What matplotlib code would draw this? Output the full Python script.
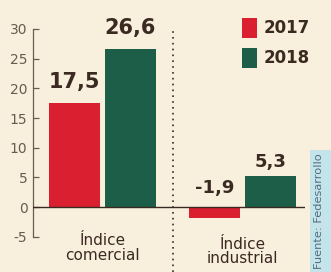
import numpy as np
import matplotlib
matplotlib.use("Agg")
import matplotlib.pyplot as plt
from matplotlib.patches import Rectangle

# donnees
categories = ["Índice\ncomercial", "Índice\nindustrial"]
annees = ["2017", "2018"]
v2017 = [17.5, -1.9]
v2018 = [26.6, 5.3]
etiquettes_2017 = ["17,5", "-1,9"]
etiquettes_2018 = ["26,6", "5,3"]
yticks = [-5, 0, 5, 10, 15, 20, 25, 30]
source = "Fuente: Fedesarrollo"

FOND = "#f8f0dc"
ROUGE = "#d91f30"
VERT = "#1d5e48"
ENCRE = "#3b2a22"
ENCRE2 = "#6a5a50"

W, H = 331, 272
fig = plt.figure(figsize=(W / 100, H / 100), dpi=100, facecolor=FOND)

# bande bleue de la source
fig.patches.append(Rectangle((310 / W, 0), 21 / W, 122 / H, transform=fig.transFigure,
                             facecolor="#c4e4ea", edgecolor="none", zorder=0))
fig.text(319 / W, 61 / H, source, rotation=90, ha="center", va="center",
         fontsize=8.2, color="#4f6f80")

ax = fig.add_axes([33 / W, 1 - 236.7 / H, 272 / W, 207.7 / H])
ax.set_facecolor("none")

x = np.arange(len(categories))
larg, dec = 0.363, 0.2
ax.bar(x - dec, v2017, larg, color=ROUGE, zorder=2)
ax.bar(x + dec, v2018, larg, color=VERT, zorder=2)

for i in range(len(categories)):
    taille = 15 if i == 0 else 13
    ecart = 2.5 if i == 0 else 1.4
    h1 = v2017[i]
    y1 = h1 + ecart if h1 > 0 else 2.3
    ax.text(x[i] - dec, y1, etiquettes_2017[i], ha="center", va="baseline",
            fontsize=taille, fontweight="bold", color=ENCRE)
    ax.text(x[i] + dec, v2018[i] + ecart, etiquettes_2018[i], ha="center", va="baseline",
            fontsize=taille, fontweight="bold", color=ENCRE)
    ax.text(x[i], -4.4 - 0.6 * i, categories[i], ha="center", va="top", fontsize=11,
            color=ENCRE, linespacing=0.95)

ax.set_xlim(-0.495, 1.443)
ax.set_ylim(-5, 30)
ax.axhline(0, color=ENCRE, lw=1.0, zorder=3)
ax.axvline(0.5, ymin=-0.17, ymax=1.0, color=ENCRE, lw=1.2, ls=(0, (1, 2.5)),
           clip_on=False)

for s in ("top", "right", "bottom"):
    ax.spines[s].set_visible(False)
ax.spines["left"].set_color(ENCRE2)
ax.spines["left"].set_linewidth(0.9)
ax.set_xticks([])
ax.set_yticks(yticks)
ax.set_yticklabels([str(t) for t in yticks])
ax.tick_params(axis="y", direction="in", length=4, width=0.9, color=ENCRE2,
               labelcolor=ENCRE2, labelsize=10, pad=4)

# legende
for j, (coul, nom) in enumerate(zip((ROUGE, VERT), annees)):
    y0 = 1 - (38 + j * 30) / H
    fig.patches.append(Rectangle((242 / W, y0), 15 / W, 20 / H, transform=fig.transFigure,
                                 facecolor=coul, edgecolor="none"))
    fig.text(264 / W, y0 + 10 / H, nom, ha="left", va="center", fontsize=12,
             fontweight="bold", color=ENCRE)

fig.savefig("out.png", dpi=100, facecolor=FOND)
